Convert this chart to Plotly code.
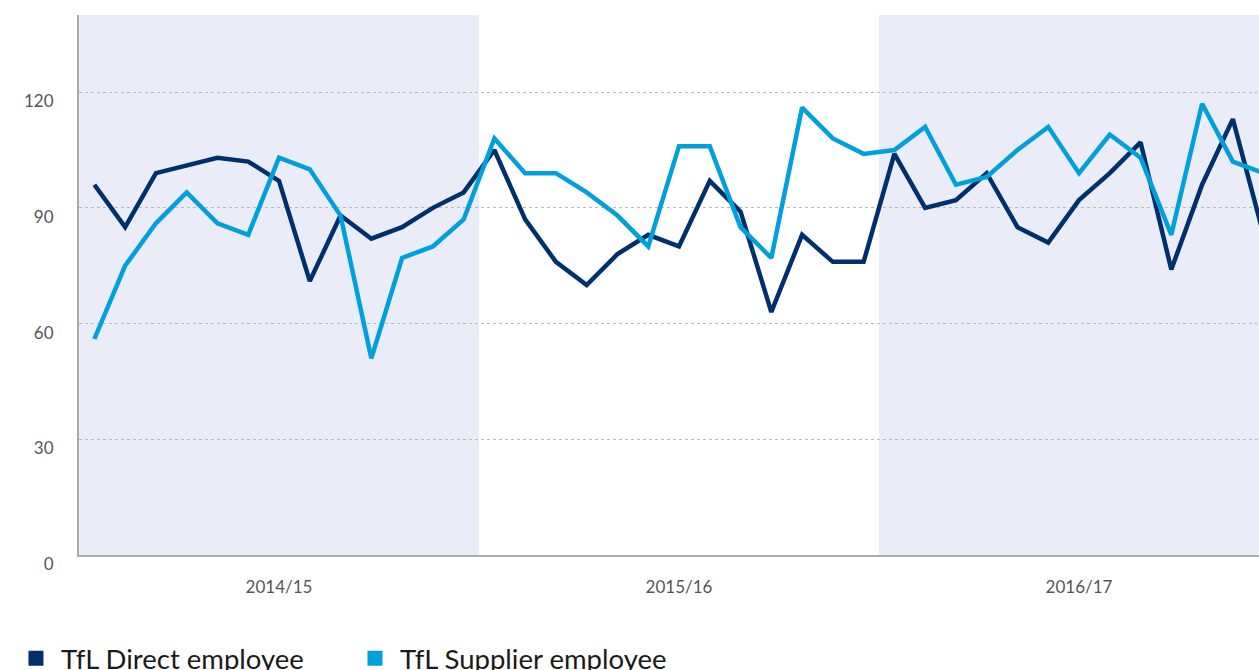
import plotly.graph_objects as go

# 4-weekly periods, 13 per financial year
years = ["2014/15", "2015/16", "2016/17"]
periods_per_year = 13

direct = [96, 85, 99, 101, 103, 102, 97, 71, 88, 82, 85, 90, 94,
          105, 87, 76, 70, 78, 83, 80, 97, 89, 63, 83, 76, 76,
          104, 90, 92, 99, 85, 81, 92, 99, 107, 74, 96, 113, 83]
supplier = [56, 75, 86, 94, 86, 83, 103, 100, 88, 51, 77, 80, 87,
            108, 99, 99, 94, 88, 80, 106, 106, 85, 77, 116, 108, 104,
            105, 111, 96, 98, 105, 111, 99, 109, 103, 83, 117, 102, 99]

y_ticks = [0, 30, 60, 90, 120]

x = list(range(len(direct)))
year_centres = [i * periods_per_year + (periods_per_year - 1) / 2 for i in range(len(years))]

DARK = "#00306b"
LIGHT = "#00a0dd"
BAND = "#eaecf8"
FONT = "Lato"

fig = go.Figure()

fig.add_trace(go.Scatter(x=x, y=direct, mode="lines", name="TfL Direct employee",
                         line=dict(color=DARK, width=4.5), showlegend=False))
fig.add_trace(go.Scatter(x=x, y=supplier, mode="lines", name="TfL Supplier employee",
                         line=dict(color=LIGHT, width=4.5), showlegend=False))

# legend entries with square markers
fig.add_trace(go.Scatter(x=[None], y=[None], mode="markers", name="TfL Direct employee",
                         marker=dict(symbol="square", size=15, color=DARK)))
fig.add_trace(go.Scatter(x=[None], y=[None], mode="markers", name="TfL Supplier employee",
                         marker=dict(symbol="square", size=15, color=LIGHT)))

# shaded bands for alternate years
for i in (0, 2):
    fig.add_shape(type="rect", xref="x", yref="paper",
                  x0=i * periods_per_year - 0.5, x1=(i + 1) * periods_per_year - 0.5,
                  y0=0, y1=1, fillcolor=BAND, line=dict(width=0), layer="below")

fig.update_layout(
    width=1259, height=670,
    margin=dict(l=79, r=0, t=15, b=115),
    paper_bgcolor="white", plot_bgcolor="white",
    font=dict(family=FONT, color="#555555"),
    showlegend=True,
    legend=dict(orientation="h", xref="container", yref="container",
                x=0.0087, xanchor="left", y=0.054, yanchor="top",
                font=dict(size=27.5, color="#1a1a1a", family=FONT),
                itemwidth=40,
                entrywidth=284, entrywidthmode="pixels",
                bgcolor="rgba(0,0,0,0)"),
    xaxis=dict(range=[-0.5, 37.85], tickmode="array", tickvals=year_centres, ticktext=years,
               showgrid=False, zeroline=False, showline=True, linecolor="#aaaaaa", linewidth=2,
               ticks="", tickfont=dict(size=17, color="#555555"), ticklabelstandoff=16),
    yaxis=dict(range=[0, 140], tickmode="array", tickvals=y_ticks,
               ticktext=[str(v) for v in y_ticks],
               showgrid=True, gridcolor="#bbbbbb", griddash="dot", gridwidth=1,
               zeroline=False, showline=True, linecolor="#aaaaaa", linewidth=2,
               ticks="", tickfont=dict(size=17, color="#555555"),
               ticklabelstandoff=20, ticklabelshift=9),
)

fig.write_html("out.html", config={"displayModeBar": False},
               post_script="document.body.style.margin='0';")
